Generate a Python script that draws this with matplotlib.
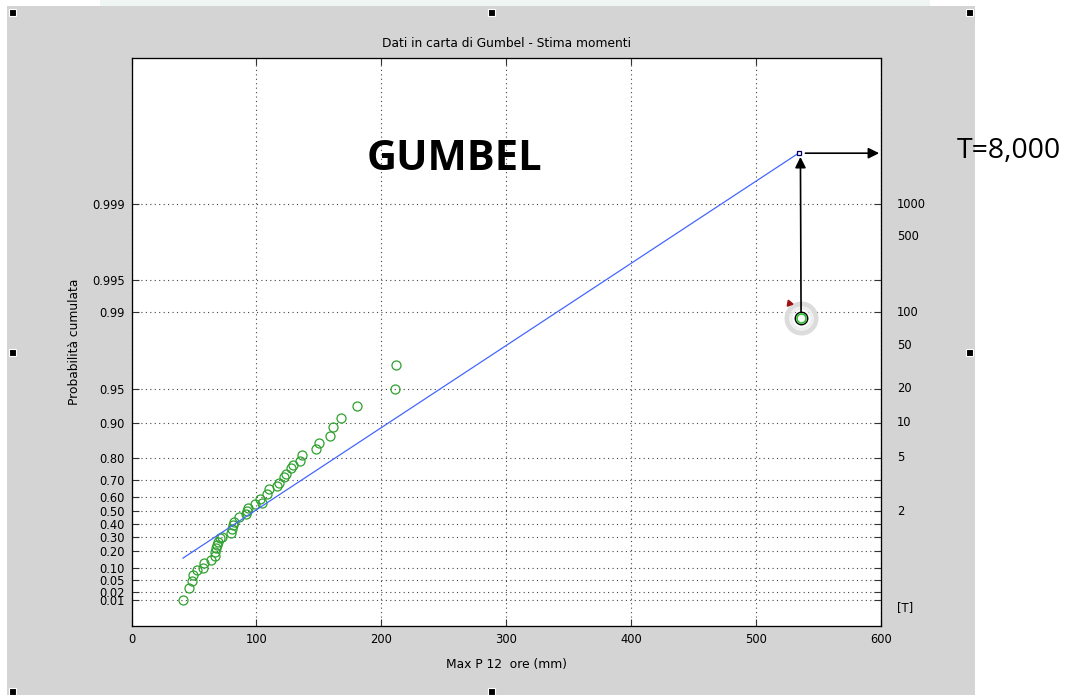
import numpy as np
import matplotlib
matplotlib.use("Agg")
import matplotlib.pyplot as plt
from matplotlib.patches import Rectangle

# ---------------- data ----------------
title = "Dati in carta di Gumbel - Stima momenti"
xlabel = "Max P 12  ore (mm)"
ylabel = "Probabilità cumulata"

# observed maxima (mm) and their Gumbel reduced variate (plotting positions)
x_obs = [41.0, 45.7, 48.7, 49.5, 52.7, 56.9, 58.3, 63.3, 66.8, 66.8, 67.6, 68.7,
         69.5, 70.8, 72.2, 79.6, 80.2, 81.0, 82.0, 86.0, 91.6, 92.7, 93.5, 98.8,
         102.8, 104.2, 108.7, 110.3, 116.1, 118.3, 122.0, 123.6, 127.6, 129.0,
         134.8, 136.2, 147.6, 150.0, 159.0, 161.5, 167.6, 180.9, 210.8, 211.6]
y_obs = [-1.527, -1.279, -1.116, -1.002, -0.889, -0.846, -0.746, -0.676, -0.590,
         -0.505, -0.427, -0.356, -0.285, -0.214, -0.179, -0.108, -0.022, 0.070,
         0.141, 0.247, 0.304, 0.375, 0.425, 0.517, 0.630, 0.545, 0.730, 0.830,
         0.907, 0.958, 1.099, 1.150, 1.277, 1.341, 1.440, 1.561, 1.682, 1.823,
         1.966, 2.151, 2.355, 2.611, 2.967, 3.478]

# highlighted point
x_hl = [536.0]
y_hl = [4.48]

# fitted Gumbel (method of moments) line
u_fit = 77.4
alpha_fit = 57.13
x_fit = [41.2, 534.0]

# axis ticks
F_ticks = [0.01, 0.02, 0.05, 0.10, 0.20, 0.30, 0.40, 0.50, 0.60, 0.70, 0.80,
           0.90, 0.95, 0.99, 0.995, 0.999]
F_labels = ["0.01", "0.02", "0.05", "0.10", "0.20", "0.30", "0.40", "0.50",
            "0.60", "0.70", "0.80", "0.90", "0.95", "0.99", "0.995", "0.999"]
T_vals = [2, 5, 10, 20, 50, 100, 500, 1000]
T_labels = ["2", "5", "10", "20", "50", "100", "500", "1000"]
x_ticks = [0, 100, 200, 300, 400, 500, 600]


def red(F):
    F = np.asarray(F, dtype=float)
    return -np.log(-np.log(F))


# ---------------- figure ----------------
W, H = 1066, 695
fig = plt.figure(figsize=(W / 100, H / 100), dpi=100, facecolor="white")

# grey figure panel
bg = fig.add_axes([0, 0, 1, 1], zorder=-10)
bg.set_xlim(0, W)
bg.set_ylim(H, 0)
bg.axis("off")
bg.add_patch(Rectangle((100, 0), 830, 6, color="#eef5f2", lw=0))
bg.add_patch(Rectangle((7, 6), 968, 700, color="#d4d4d4", lw=0))
for (hx, hy) in [(12, 12), (491, 12), (969, 12), (12, 352), (969, 352),
                 (12, 691), (491, 691)]:
    bg.add_patch(Rectangle((hx - 3.5, hy - 3.5), 7, 7, facecolor="black",
                           edgecolor="white", lw=0.8))

fontfam = ["DejaVu Sans"]
fs = 8.3
fs_lab = 8.8

ax = fig.add_axes([131.5 / W, 1 - 626 / H, (881 - 131.5) / W, (626 - 58) / H])
ax.set_facecolor("white")
ax.set_xlim(0, 600)
ax.set_ylim(-2.08, 10.02)

ax.set_xticks(x_ticks)
ax.set_xticklabels([str(v) for v in x_ticks], fontsize=fs, family=fontfam)
ax.set_yticks(red(F_ticks))
ax.set_yticklabels(F_labels, fontsize=fs, family=fontfam)
ax.tick_params(direction="in", length=5, width=0.8, top=True, color="#333333",
               pad=5)
ax.grid(True, linestyle=(0, (1, 3)), color="#444444", linewidth=0.8)
for s in ax.spines.values():
    s.set_linewidth(0.9)
    s.set_color("#333333")

ax.set_title(title, fontsize=fs_lab, family=fontfam, pad=8)
ax.set_xlabel(xlabel, fontsize=fs_lab, family=fontfam, labelpad=9)
ax.set_ylabel(ylabel, fontsize=fs_lab, family=fontfam, labelpad=8)

# right axis: tick marks + return period labels
ax2 = ax.twinx()
ax2.set_ylim(ax.get_ylim())
ax2.set_yticks(red(F_ticks))
ax2.set_yticklabels([])
ax2.tick_params(direction="in", length=5, width=0.8, color="#333333")
T_pos = red(1 - 1 / np.asarray(T_vals, dtype=float))
ytr = ax.get_yaxis_transform()
for yp, lab in zip(T_pos, T_labels):
    ax.text(1.021, yp, lab, transform=ytr, fontsize=fs, family=fontfam,
            va="center", ha="left")
ax.text(1.021, -1.68, "[T]", transform=ytr, fontsize=fs, family=fontfam,
        va="center", ha="left")

# observations
ax.plot(x_obs, y_obs, "o", mfc="none", mec="#2ea02e", ms=6.5, mew=0.9,
        zorder=3)

# fitted line
xf = np.asarray(x_fit)
ax.plot(xf, (xf - u_fit) / alpha_fit, "-", color="#4466ff", lw=0.9, zorder=3)
ax.plot([xf[-1]], [(xf[-1] - u_fit) / alpha_fit], "s", ms=3.5, mfc="white",
        mec="#000066", mew=0.9, zorder=5)

# highlighted point
ax.plot(x_hl, y_hl, "o", ms=21, mfc="none", mec="#dcdcdc", mew=3.5,
        zorder=4)
ax.plot(x_hl, y_hl, "o", ms=15, mfc="none", mec="#eeeeee", mew=2,
        zorder=4)
ax.plot(x_hl, y_hl, "o", ms=9, mfc="none", mec="black", mew=1.0, zorder=5)
ax.plot(x_hl, y_hl, "o", ms=6.5, mfc="none", mec="#2ec02e", mew=1.2, zorder=6)
ax.plot([526.5], [4.80], marker=(3, 0, 20), ms=5, color="#a01010", zorder=6)

# arrows
y_top = (xf[-1] - u_fit) / alpha_fit
ax.annotate("", xy=(535.5, y_top - 0.08), xytext=(536, y_hl[0] + 0.14),
            arrowprops=dict(arrowstyle="-|>", color="black", lw=1.2,
                            mutation_scale=16, shrinkA=0, shrinkB=0),
            zorder=7)
ax.annotate("", xy=(598.5, y_top), xytext=(539.5, y_top),
            arrowprops=dict(arrowstyle="-|>", color="black", lw=1.2,
                            mutation_scale=16, shrinkA=0, shrinkB=0),
            annotation_clip=False, zorder=7)

# overlay texts
fig.text(454 / W, 1 - 159 / H, "GUMBEL", fontsize=30, fontweight="bold",
         family=["Open Sans", "DejaVu Sans"], ha="center", va="center")
fig.text(957 / W, 1 - 151 / H, "T=8,000", fontsize=20.5,
         family=["Open Sans", "DejaVu Sans"], ha="left", va="center")

fig.savefig("out.png", dpi=100, facecolor="white")
